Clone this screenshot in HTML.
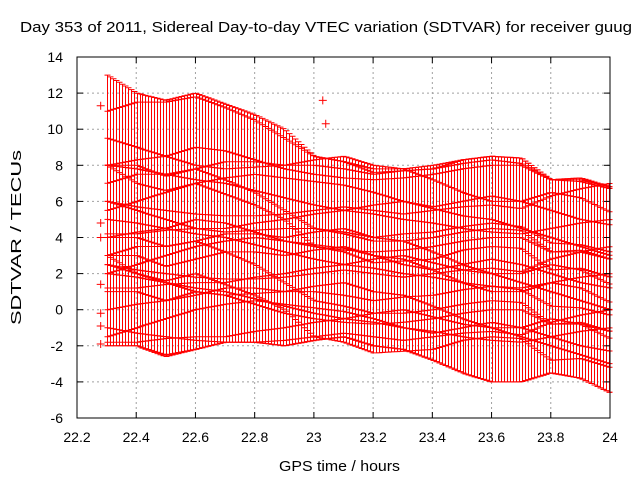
<!DOCTYPE html>
<html><head><meta charset="utf-8"><style>
body{margin:0;background:#fff}
svg{display:block;font-family:"Liberation Sans",sans-serif}
</style></head><body>
<svg id="c" width="640" height="480" xmlns="http://www.w3.org/2000/svg">
<rect width="640" height="480" fill="#fff"/>
<g id="grid"></g>
<g id="marks"></g>
<rect x="77" y="57" width="533" height="361" fill="none" stroke="#000" stroke-width="1"/>
<g id="ticks"></g>
<text x="20" y="32" font-size="15" textLength="612" lengthAdjust="spacingAndGlyphs">Day 353 of 2011, Sidereal Day-to-day VTEC variation (SDTVAR) for receiver guug</text>
<text x="279" y="471" font-size="15" textLength="121" lengthAdjust="spacingAndGlyphs">GPS time / hours</text>
<text transform="translate(21,325) rotate(-90)" font-size="15" textLength="175" lengthAdjust="spacingAndGlyphs">SDTVAR / TECUs</text>
</svg>
<script>
const xTicks=[22.2,22.4,22.6,22.8,23,23.2,23.4,23.6,23.8,24];
const xTickLabels=["22.2","22.4","22.6","22.8","23","23.2","23.4","23.6","23.8","24"];
const yTicks=[-6,-4,-2,0,2,4,6,8,10,12,14];
const knotTimes=[22.3,22.4,22.5,22.6,22.7,22.8,22.9,23.0,23.1,23.2,23.3,23.4,23.5,23.6,23.7,23.8,23.9,24.0];
const track1=[8,7,6.6,7,6.4,5.8,5,3.5,3.2,2.6,2.7,2.8,3.3,3.5,3.4,2.2,2.3,1.8];
const track2=[3,3,2.4,2.8,3.2,3.2,3,3.3,3.5,3,2.8,2.2,1.5,1,1,1.5,1.2,0.4];
const track3=[7,7.5,7.5,7.8,7.2,6.5,5.5,4.5,4.2,3.8,3.8,4,4.3,4.5,4.4,3.2,3.3,2.8];
const track4=[4,4.3,4.5,5,4.8,4.3,3.8,3.5,3.3,3.2,3.3,3.5,3.8,4,4,3.2,3.2,2.8];
const track5=[2,2.5,3,3.5,3.8,4,3.8,3.6,3.4,3,2.5,2.2,2.5,2.8,2.5,2,1.5,1.2];
const track6=[6,5.5,5,4.5,4.3,4.4,4.5,4.5,4.3,4,4.2,4.3,4.6,4.8,4.6,3.7,3.6,3.2];
const track7=[1.2,1.2,1.4,1.5,1.5,1.8,2,2.3,2.5,2.8,3,2.6,2.2,2,1.5,1,0.5,0];
const track8=[1,1,0.5,0.8,1.2,1.2,1,1.3,1.5,1,0.8,0.2,-0.5,-1,-1,-0.5,-0.8,-1.6];
const track9=[5,4.8,4.5,4.2,4,3.6,3.2,2.8,2.5,2.3,2,1.8,1.5,1.3,1.2,1.5,1.8,2];
const track10=[2.5,2.2,2,1.8,1.7,1.7,1.8,2,2.2,2,1.8,2,2.2,2.3,2.1,2.8,3.2,3.5];
const trackErrors=[5,5,4,4,3.5,3.5,3,3,3,3.5];
const isoTimes=[22.28,22.28,22.28,22.28,22.28,22.28,22.28,23.03,23.04];
const isoValues=[11.3,4.8,4,1.4,-0.2,-0.9,-1.9,11.6,10.3];
const tracks=[track1,track2,track3,track4,track5,track6,track7,track8,track9,track10];

const NS="http://www.w3.org/2000/svg";
const X=v=>77+(v-22.2)/(24-22.2)*533;
const Y=v=>418-(v+6)/20*361;
function mk(tag,attrs,parent){const e=document.createElementNS(NS,tag);for(const k in attrs)e.setAttribute(k,attrs[k]);parent.appendChild(e);return e;}
const grid=document.getElementById('grid'),ticks=document.getElementById('ticks'),marks=document.getElementById('marks');
xTicks.forEach((t,i)=>{
  const x=X(t);
  if(i>0&&i<xTicks.length-1){const g=mk('line',{x1:x,x2:x,y1:57,y2:418,stroke:'#a0a0a0','stroke-dasharray':'2,3'},grid);
  
  }
  mk('line',{x1:x,x2:x,y1:418,y2:412,stroke:'#000'},ticks);
  mk('line',{x1:x,x2:x,y1:57,y2:63,stroke:'#000'},ticks);
  const l=mk('text',{x:x,y:442,'text-anchor':'middle','font-size':'14'},ticks);l.textContent=xTickLabels[i];
  
  
});
yTicks.forEach((t,i)=>{
  const y=Y(t);
  if(i>0&&i<yTicks.length-1){const g=mk('line',{x1:77,x2:610,y1:y,y2:y,stroke:'#a0a0a0','stroke-dasharray':'2,3'},grid);
  
  }
  mk('line',{x1:77,x2:83,y1:y,y2:y,stroke:'#000'},ticks);
  mk('line',{x1:610,x2:604,y1:y,y2:y,stroke:'#000'},ticks);
  const l=mk('text',{x:63,y:y+5,'text-anchor':'end','font-size':'14'},ticks);l.textContent=String(t);
  
  
});
function valAt(arr,t){
  for(let i=0;i<knotTimes.length-1;i++){if(t<=knotTimes[i+1]){const f=(t-knotTimes[i])/(knotTimes[i+1]-knotTimes[i]);return arr[i]+(arr[i+1]-arr[i])*f;}}
  return arr[arr.length-1];
}
tracks.forEach((arr,ti)=>{
  const g=mk('g',{stroke:'#f00','stroke-width':'1',fill:'none'},marks);
  
  
  let d='';
  const e=trackErrors[ti];
  for(let t=22.3;t<=24.0001;t+=0.0101){
    const v=valAt(arr,t),x=Math.round(X(t))+0.5,yc=Y(v),yt=Y(v+e),yb=Y(v-e);
    d+=`M${x},${yt.toFixed(1)}V${yb.toFixed(1)}M${x-3},${yt.toFixed(1)}h6M${x-3},${yb.toFixed(1)}h6M${x-3},${yc.toFixed(1)}h6`;
  }
  mk('path',{d:d},g);
});
isoTimes.forEach((t,i)=>{
  const x=X(t),y=Y(isoValues[i]);
  const p=mk('path',{d:`M${x-4},${y}h8M${x},${y-4}v8`,stroke:'#f00',fill:'none'},marks);
  
  
});
</script>
</body></html>
